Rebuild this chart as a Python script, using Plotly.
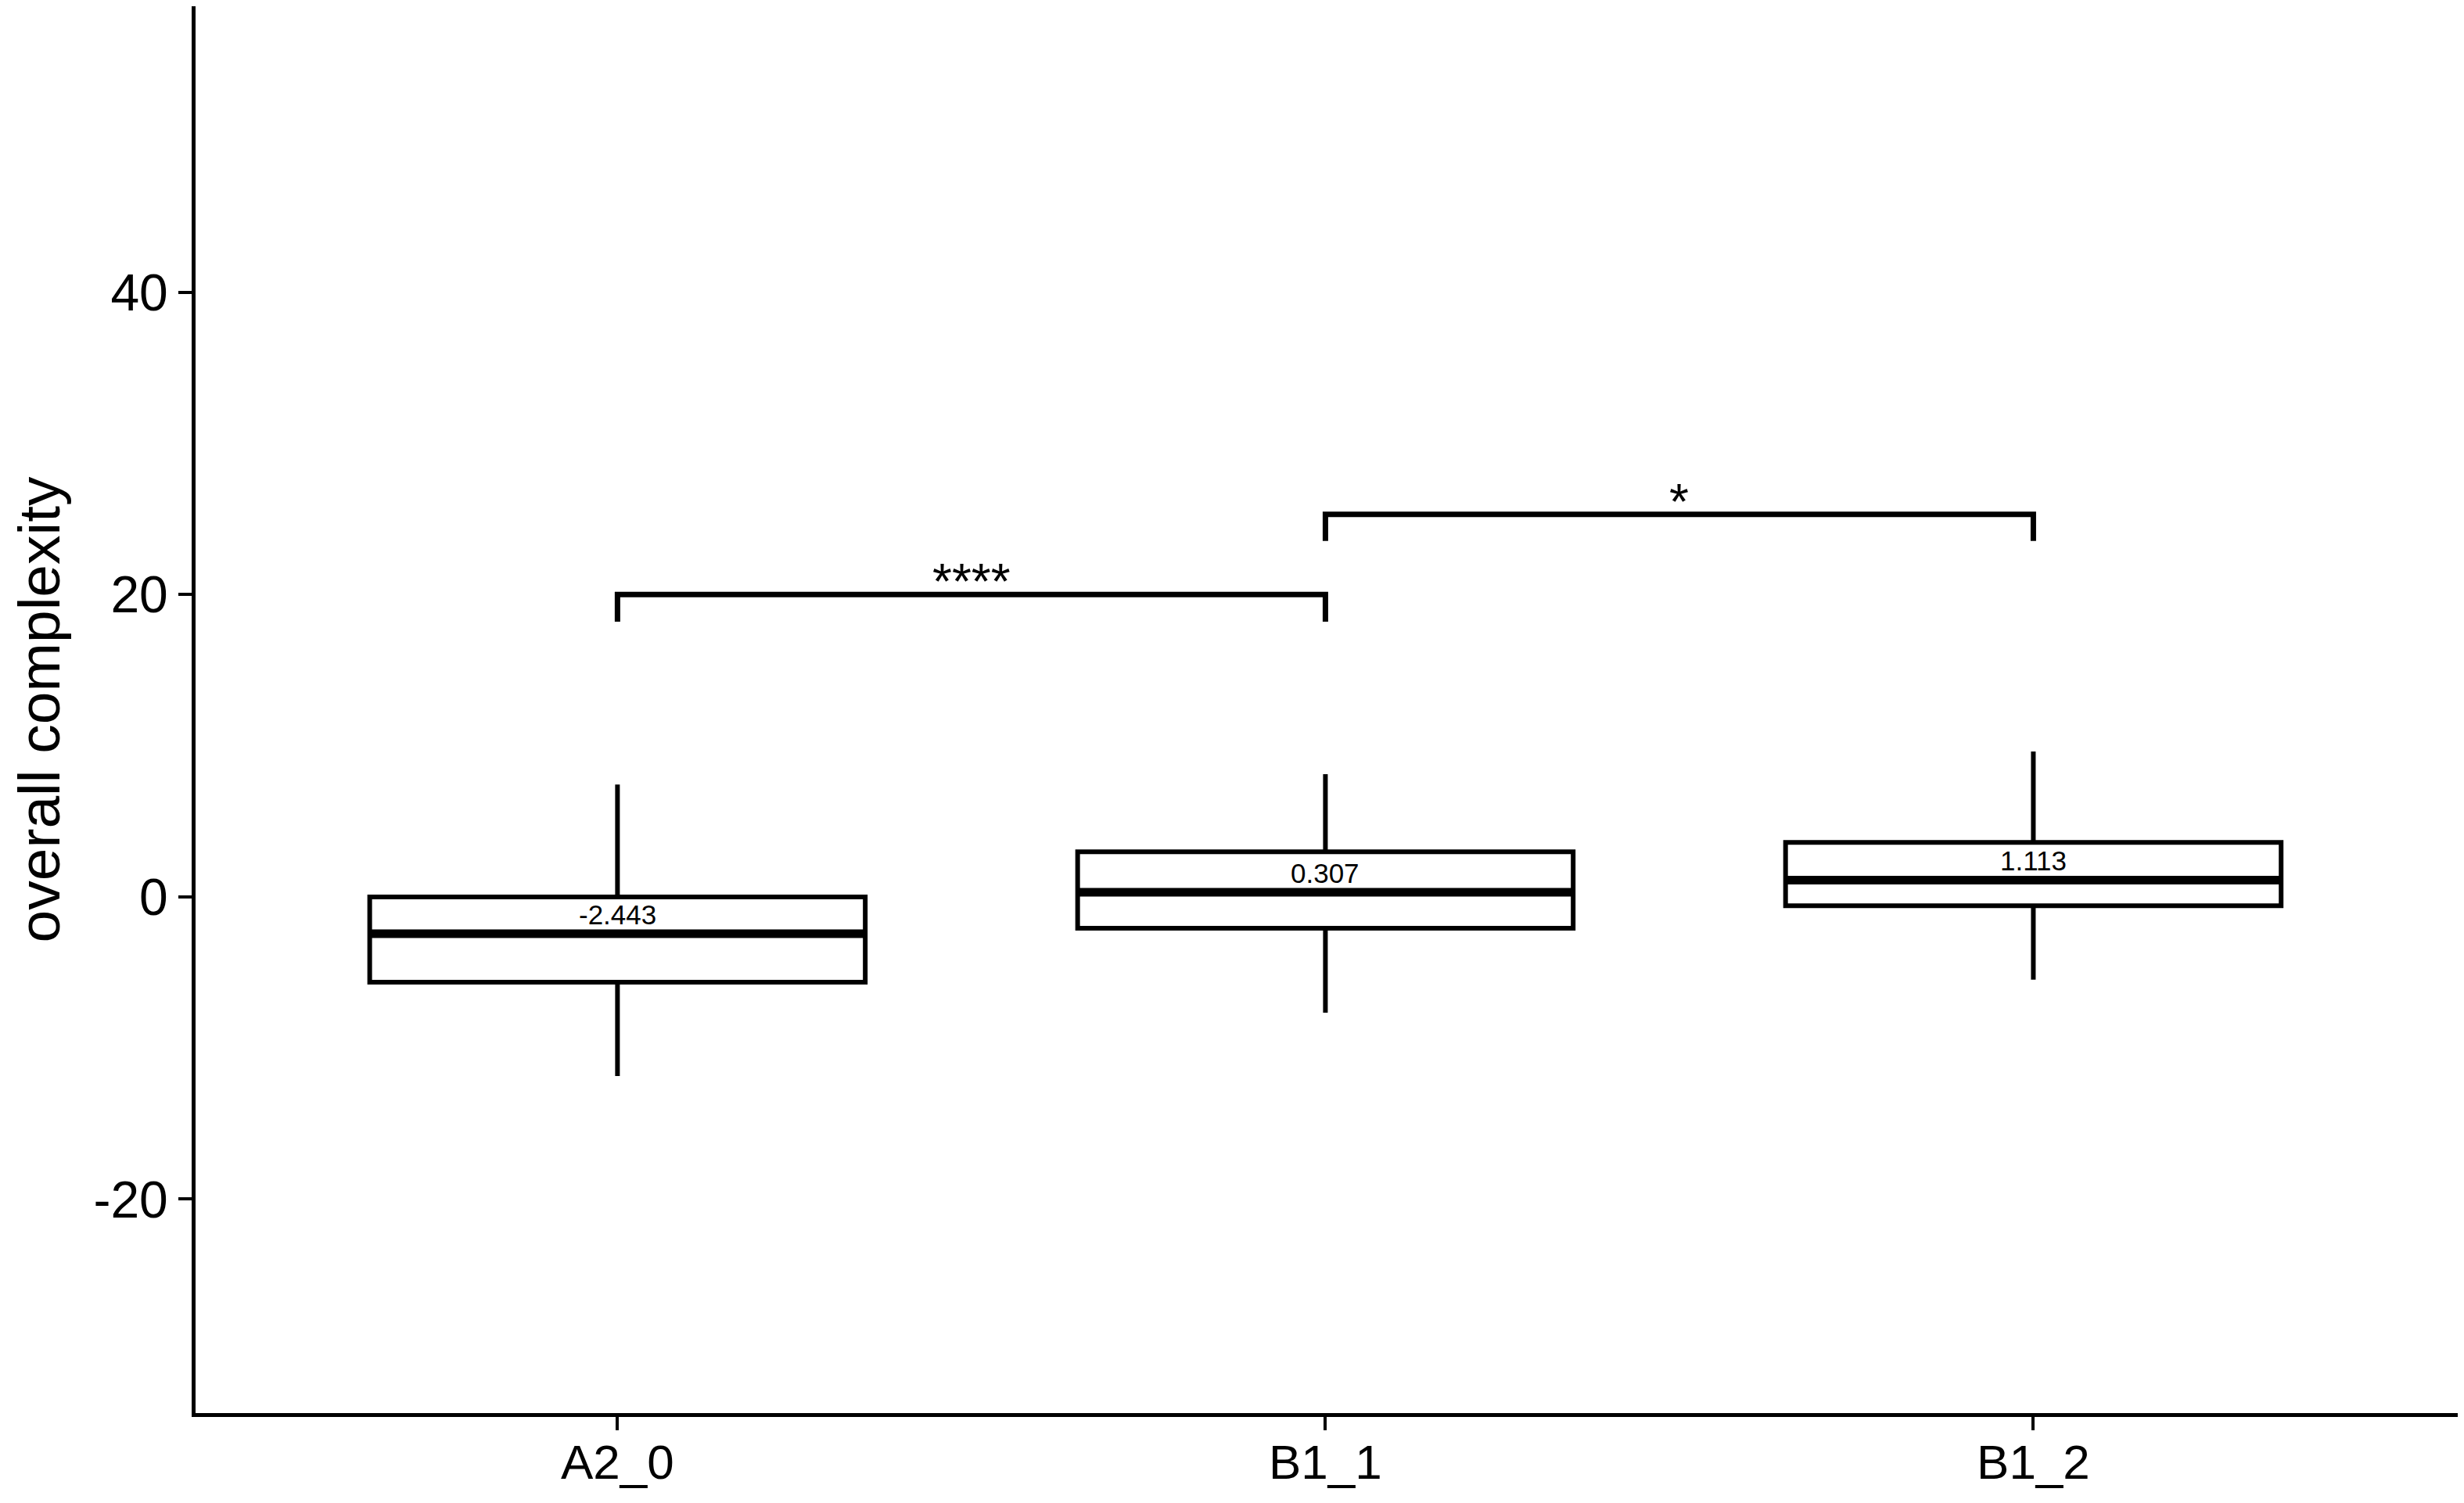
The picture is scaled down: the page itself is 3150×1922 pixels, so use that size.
import plotly.graph_objects as go

# ---- data ----
categories = ["A2_0", "B1_1", "B1_2"]
lower_whisker = [-11.85, -7.66, -5.47]
q1_values = [-5.64, -2.08, -0.59]
medians = [-2.443, 0.307, 1.113]
q3_values = [0.0, 2.98, 3.60]
upper_whisker = [7.43, 8.12, 9.62]

y_tick_values = [-20, 0, 20, 40]
y_tick_text = ["-20", "0", "20", "40"]

# significance brackets: (group a, group b, bar height, tip bottom, label)
bracket_from = ["A2_0", "B1_1"]
bracket_to = ["B1_1", "B1_2"]
bracket_top = [20.0, 25.3]
bracket_tip = [18.2, 23.55]
bracket_label = ["****", "*"]

BOX_WIDTH = 0.7
FONT = "Liberation Sans, Arial, sans-serif"

pos = {c: i for i, c in enumerate(categories)}
xs = [pos[c] for c in categories]

fig = go.Figure()

fig.add_trace(go.Box(
    x=xs,
    q1=q1_values, median=medians, q3=q3_values,
    lowerfence=lower_whisker, upperfence=upper_whisker,
    width=BOX_WIDTH, whiskerwidth=0,
    fillcolor="white",
    line=dict(color="black", width=6),
    boxpoints=False, showlegend=False, hoverinfo="skip",
))

# thicker median bars (ggplot style)
for x, m in zip(xs, medians):
    fig.add_trace(go.Scatter(
        x=[x - BOX_WIDTH / 2, x + BOX_WIDTH / 2], y=[m, m],
        mode="lines", line=dict(color="black", width=11),
        showlegend=False, hoverinfo="skip",
    ))

# median labels
for x, m in zip(xs, medians):
    fig.add_annotation(
        x=x, y=m, text=f"{m:.3f}", showarrow=False,
        xref="x", yref="y", yanchor="bottom", yshift=3,
        font=dict(family=FONT, size=35, color="black"),
    )

# significance brackets
for a, b, top, tip, lab in zip(bracket_from, bracket_to, bracket_top, bracket_tip, bracket_label):
    xa, xb = pos[a], pos[b]
    fig.add_trace(go.Scatter(
        x=[xa, xa, xb, xb], y=[tip, top, top, tip],
        mode="lines", line=dict(color="black", width=7),
        showlegend=False, hoverinfo="skip",
    ))
    fig.add_annotation(
        x=(xa + xb) / 2, y=top, text=lab, showarrow=False,
        xref="x", yref="y", yanchor="bottom", yshift=-22,
        font=dict(family=FONT, size=64, color="black"),
    )

# the page body adds an 8px margin, so the figure is sized to fit inside it
fig.update_layout(
    width=3134, height=1906,
    margin=dict(l=242, r=0, t=0, b=107),
    paper_bgcolor="white", plot_bgcolor="white",
    showlegend=False,
    font=dict(family=FONT, color="black"),
)

fig.update_xaxes(
    range=[-0.596, 2.5995],
    tickmode="array", tickvals=xs, ticktext=categories,
    showline=True, linecolor="black", linewidth=5,
    ticks="outside", ticklen=17, tickwidth=4, tickcolor="black",
    tickfont=dict(family=FONT, size=62, color="black"),
    ticklabelstandoff=-12,
    showgrid=False, zeroline=False,
)
fig.update_yaxes(
    range=[-34.15, 58.92],
    tickmode="array", tickvals=y_tick_values, ticktext=y_tick_text,
    showline=True, linecolor="black", linewidth=5,
    ticks="outside", ticklen=17, tickwidth=4, tickcolor="black",
    tickfont=dict(family=FONT, size=66, color="black"),
    showgrid=False, zeroline=False,
    title=dict(text="overall complexity", standoff=24,
               font=dict(family=FONT, size=75, color="black")),
)

fig.write_html("out.html")
